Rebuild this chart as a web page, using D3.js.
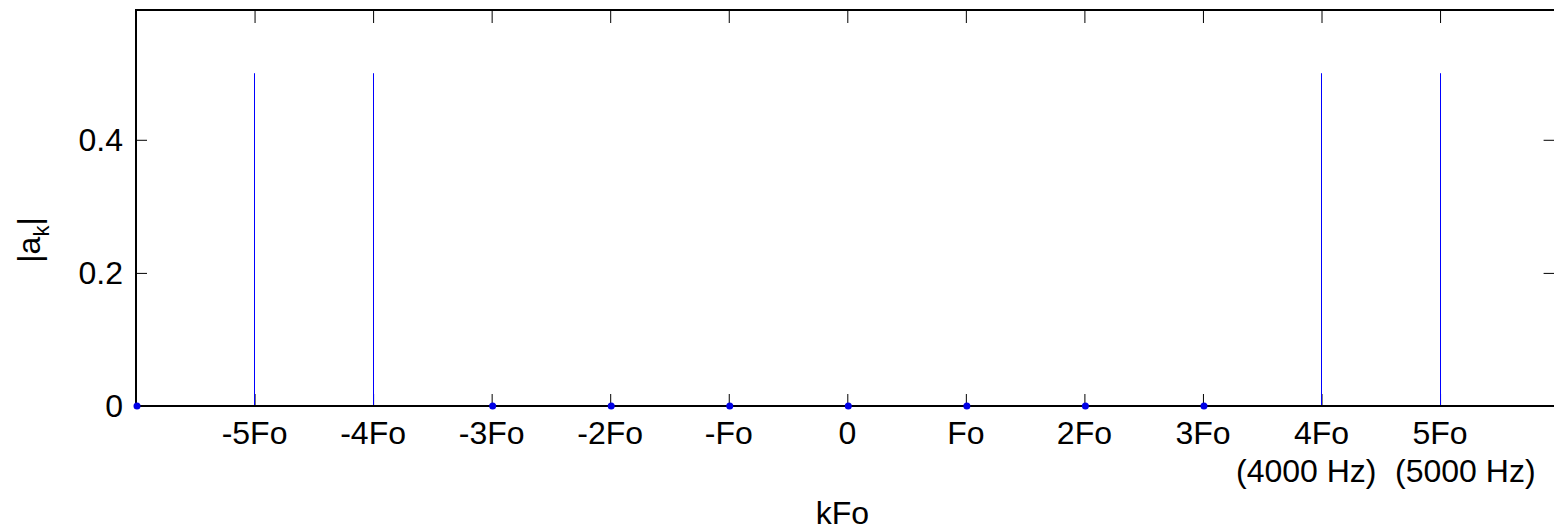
<!DOCTYPE html>
<html>
<head>
<meta charset="utf-8">
<script src="https://cdn.jsdelivr.net/npm/d3@7"></script>
<style>
  body { margin: 0; background: #fff; }
  text { font-family: "Liberation Sans", Arial, sans-serif; fill: #000; }
</style>
</head>
<body>
<div id="stem_plot"></div>
<script>
// harmonic index k and magnitude |a_k|
const harmonics = [-6, -5, -4, -3, -2, -1, 0, 1, 2, 3, 4, 5];
const magnitudes = [0, 0.5, 0.5, 0, 0, 0, 0, 0, 0, 0, 0.5, 0.5];

// x ticks and their labels
const xTicks = [-5, -4, -3, -2, -1, 0, 1, 2, 3, 4, 5];
const xTickLabels = ["-5Fo", "-4Fo", "-3Fo", "-2Fo", "-Fo", "0", "Fo", "2Fo", "3Fo", "4Fo", "5Fo"];
const xTickSubLabels = ["", "", "", "", "", "", "", "", "", "(4000 Hz)", "(5000 Hz)"];
const yTicks = [0, 0.2, 0.4];

class StemPlot {
  constructor() {
    let width = 1554, height = 530;
    let margin = {top: 10, left: 136, bottom: 406, right: 1558.6};
    let fontSize = 32;

    let svg = d3.select("#stem_plot")
        .append("svg")
        .attr("width", width)
        .attr("height", height);

    // scales
    let xScale = d3.scaleLinear().domain([-6, 6]).range([margin.left, margin.right]);
    let yScale = d3.scaleLinear().domain([0, 0.595]).range([margin.bottom, margin.top]);

    // inside tick marks, bottom and top
    svg.append("g")
        .attr("transform", "translate(0," + margin.bottom + ")")
        .call(d3.axisBottom(xScale).tickValues(xTicks).tickSizeInner(-12).tickSizeOuter(0).tickFormat(""))
        .call(g => g.select(".domain").remove())
        .selectAll("line").style("stroke", "#000");
    svg.append("g")
        .attr("transform", "translate(0," + margin.top + ")")
        .call(d3.axisTop(xScale).tickValues(xTicks).tickSizeInner(-13).tickSizeOuter(0).tickFormat(""))
        .call(g => g.select(".domain").remove())
        .selectAll("line").style("stroke", "#000");

    // y ticks left and right
    let yLeft = svg.append("g")
        .attr("transform", "translate(" + margin.left + ",0)")
        .call(d3.axisLeft(yScale).tickValues(yTicks).tickSizeInner(-11).tickSizeOuter(0)
              .tickPadding(13).tickFormat(d => d === 0 ? "0" : d3.format(".1f")(d)))
        .call(g => g.select(".domain").remove());
    yLeft.selectAll("line").style("stroke", "#000");
    yLeft.selectAll("text")
        .attr("font-size", fontSize)
        .attr("font-family", "Liberation Sans, Arial, sans-serif")
        .attr("fill", "#000");
    svg.append("g")
        .attr("transform", "translate(" + margin.right + ",0)")
        .call(d3.axisRight(yScale).tickValues(yTicks).tickSizeInner(-15).tickSizeOuter(0).tickFormat(""))
        .call(g => g.select(".domain").remove())
        .selectAll("line").style("stroke", "#000");

    // x tick labels (two lines for 4Fo, 5Fo)
    let labels = svg.append("g");
    labels.selectAll("text.main")
        .data(xTicks)
        .enter().append("text")
        .attr("class", "main")
        .attr("x", d => xScale(d))
        .attr("y", 444)
        .attr("text-anchor", "middle")
        .attr("font-size", fontSize)
        .text((d, i) => xTickLabels[i]);

    // the two frequency notes sit side by side, pushed apart a little
    let last = xTicks[xTicks.length - 1];
    labels.selectAll("text.sub")
        .data(xTicks.filter((d, i) => xTickSubLabels[i] !== ""))
        .enter().append("text")
        .attr("class", "sub")
        .attr("x", d => d === last ? xScale(d) - 45 : xScale(d) + 55)
        .attr("y", 482)
        .attr("text-anchor", d => d === last ? "start" : "end")
        .attr("font-size", fontSize)
        .text(d => xTickSubLabels[xTicks.indexOf(d)]);

    // axis titles
    svg.append("text")
        .attr("x", (margin.left + margin.right) / 2 - 5)
        .attr("y", 524)
        .attr("text-anchor", "middle")
        .attr("font-size", fontSize)
        .text("kFo");

    let ylab = svg.append("text")
        .attr("transform", "translate(40,240) rotate(-90)")
        .attr("text-anchor", "middle")
        .attr("font-size", fontSize);
    ylab.append("tspan").text("|a");
    ylab.append("tspan").attr("font-size", 22).attr("dy", 9).text("k");
    ylab.append("tspan").attr("dy", -9).text("|");

    // stems
    let stems = harmonics.filter((k, i) => magnitudes[i] > 0);
    svg.append("g")
        .selectAll("path")
        .data(stems)
        .enter().append("path")
        .attr("d", d => {
          let x = Math.floor(xScale(d)) + 0.5;
          return "M" + x + "," + yScale(0) + "V" + yScale(magnitudes[harmonics.indexOf(d)]);
        })
        .style("stroke", "#0000ff")
        .style("stroke-width", 1)
        .style("fill", "none");

    // axes box (left, top, bottom)
    svg.append("path")
        .attr("d", "M" + margin.right + "," + margin.top + "H" + margin.left + "V" + margin.bottom + "H" + margin.right)
        .attr("fill", "none")
        .attr("stroke", "#000")
        .attr("stroke-width", 2);

    // markers at zero values
    svg.append("g")
        .selectAll("circle")
        .data(harmonics.filter((k, i) => magnitudes[i] === 0))
        .enter().append("circle")
        .attr("cx", d => xScale(d) + 1)
        .attr("cy", yScale(0))
        .attr("r", 3.5)
        .attr("fill", "#0000e6");
  }
}

new StemPlot();
</script>
</body>
</html>
